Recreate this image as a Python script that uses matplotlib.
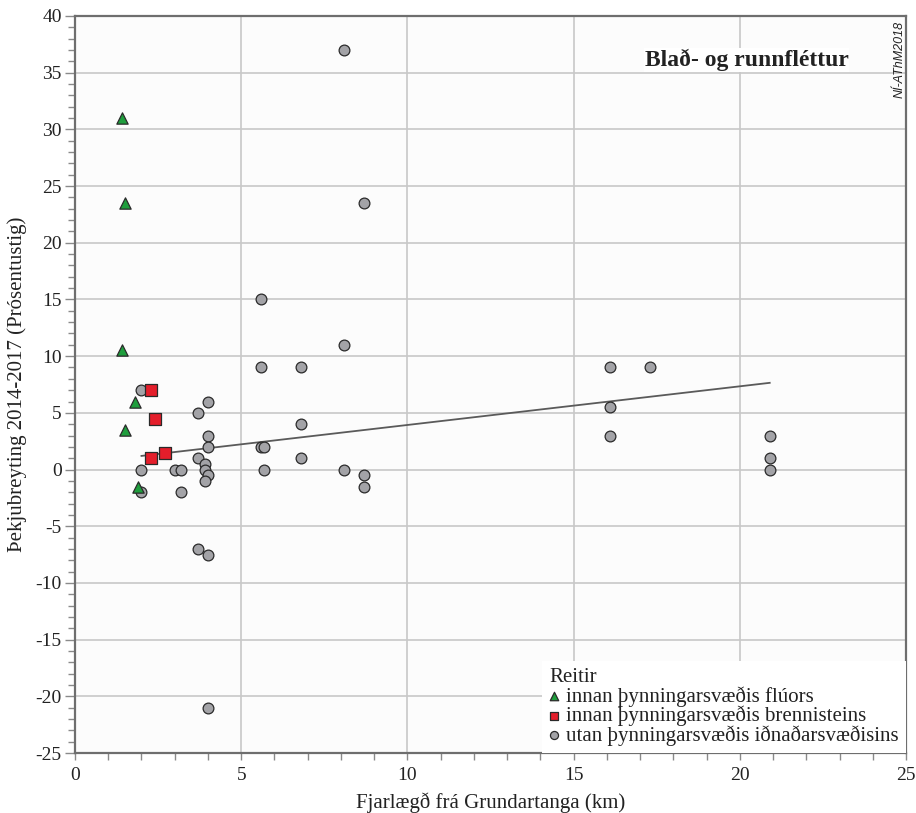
import matplotlib
matplotlib.use("Agg")
import matplotlib.pyplot as plt
from matplotlib.ticker import MultipleLocator
import numpy as np

# ---------------- data ----------------
flu_x = [1.4, 1.5, 1.4, 1.8, 1.5, 1.9]
flu_y = [31.0, 23.5, 10.5, 6.0, 3.5, -1.5]

sulf_x = [2.3, 2.4, 2.7, 2.3]
sulf_y = [7.0, 4.5, 1.5, 1.0]

out_x = [8.1, 8.7, 5.6, 8.1, 5.6, 6.8, 16.1, 17.3, 2.0, 4.0,
         16.1, 3.7, 6.8, 4.0, 16.1, 20.9, 4.0, 5.6, 5.7, 3.7,
         6.8, 20.9, 3.9, 2.0, 3.0, 3.2, 3.9, 5.7, 8.1, 20.9,
         4.0, 8.7, 3.9, 8.7, 2.0, 3.2, 3.7, 4.0, 4.0]
out_y = [37.0, 23.5, 15.0, 11.0, 9.0, 9.0, 9.0, 9.0, 7.0, 6.0,
         5.5, 5.0, 4.0, 3.0, 3.0, 3.0, 2.0, 2.0, 2.0, 1.0,
         1.0, 1.0, 0.5, 0.0, 0.0, 0.0, 0.0, 0.0, 0.0, 0.0,
         -0.5, -0.5, -1.0, -1.5, -2.0, -2.0, -7.0, -7.5, -21.0]

# trend line: y = intercept + slope * x over range of outside points
trend_intercept = 0.52
trend_slope = 0.341

labels = ["innan þynningarsvæðis flúors",
          "innan þynningarsvæðis brennisteins",
          "utan þynningarsvæðis iðnaðarsvæðisins"]
legend_title = "Reitir"
panel_title = "Blað- og runnfléttur"
credit = "NÍ-AThM2018"
xlabel = "Fjarlægð frá Grundartanga (km)"
ylabel = "Þekjubreyting 2014-2017 (Prósentustig)"

# ---------------- style ----------------
serif = ["Liberation Serif", "DejaVu Serif"]
plt.rcParams["font.family"] = serif
plt.rcParams["axes.unicode_minus"] = False

fig = plt.figure(figsize=(9.16, 8.13), dpi=100)
ax = fig.add_axes([75/916, 1-753/813, (906-75)/916, (753-16)/813])
ax.set_facecolor("#fcfcfc")

ax.set_xlim(0, 25)
ax.set_ylim(-25, 40)
ax.xaxis.set_major_locator(MultipleLocator(5))
ax.xaxis.set_minor_locator(MultipleLocator(1))
ax.yaxis.set_major_locator(MultipleLocator(5))
ax.yaxis.set_minor_locator(MultipleLocator(1))

spine_c = "#6e6e6e"
for s in ax.spines.values():
    s.set_color(spine_c)
    s.set_linewidth(1.6)

ax.tick_params(axis="x", which="both", direction="out", length=5, width=1.0,
               color="#8a8a8a", labelsize=14, pad=5, labelcolor="#222222")
ax.tick_params(axis="y", which="major", direction="out", length=7.5, width=1.0,
               color="#8a8a8a", labelsize=14, pad=2, labelcolor="#222222")
ax.tick_params(axis="y", which="minor", direction="out", length=5, width=1.0,
               color="#8a8a8a")

ax.grid(True, which="major", color="#c8c8c8", linewidth=1.2, zorder=0)
ax.set_axisbelow(True)

# trend line
tx = np.array([min(out_x), max(out_x)])
ax.plot(tx, trend_intercept + trend_slope * tx, color="#5a5a5a", linewidth=1.3, zorder=2)

edge = "#2a2a2a"
ax.scatter(out_x, out_y, s=60, marker="o", facecolor="#a3a3a7", edgecolor=edge,
           linewidth=0.9, zorder=3, label=labels[2])
ax.scatter(flu_x, flu_y, s=66, marker="^", facecolor="#1f9e3d", edgecolor=edge,
           linewidth=0.9, zorder=3, label=labels[0])
ax.scatter(sulf_x, sulf_y, s=66, marker="s", facecolor="#e41e2b", edgecolor=edge,
           linewidth=0.9, zorder=4, label=labels[1])

ax.set_xlabel(xlabel, fontsize=15, color="#222222", labelpad=6)
ax.set_ylabel(ylabel, fontsize=15, color="#222222", labelpad=6)

ax.text(0.808, 0.932, panel_title, transform=ax.transAxes, ha="center", va="baseline",
        fontsize=17, fontweight="bold", color="#222222", zorder=5,
        bbox=dict(facecolor="white", edgecolor="none", pad=0.5))
ax.text(0.992, 0.994, credit, transform=ax.transAxes, rotation=90, ha="center", va="top",
        fontsize=9, style="italic", family=["Liberation Sans", "DejaVu Sans"],
        color="#222222", zorder=5)

handles, labs = ax.get_legend_handles_labels()
order = [labs.index(l) for l in labels]
leg = ax.legend([handles[i] for i in order], [labs[i] for i in order],
                title=legend_title, loc="lower right", bbox_to_anchor=(1, 0),
                borderaxespad=0, frameon=True, fancybox=False, framealpha=1,
                facecolor="white", edgecolor="none", fontsize=15, title_fontsize=15,
                markerscale=0.75, handlelength=0.45, handletextpad=0.35,
                labelspacing=-0.05, borderpad=0.35, alignment="left")
leg.set_zorder(6)
leg.get_title().set_color("#222222")
for t in leg.get_texts():
    t.set_color("#222222")

fig.savefig("out.png", dpi=100)
